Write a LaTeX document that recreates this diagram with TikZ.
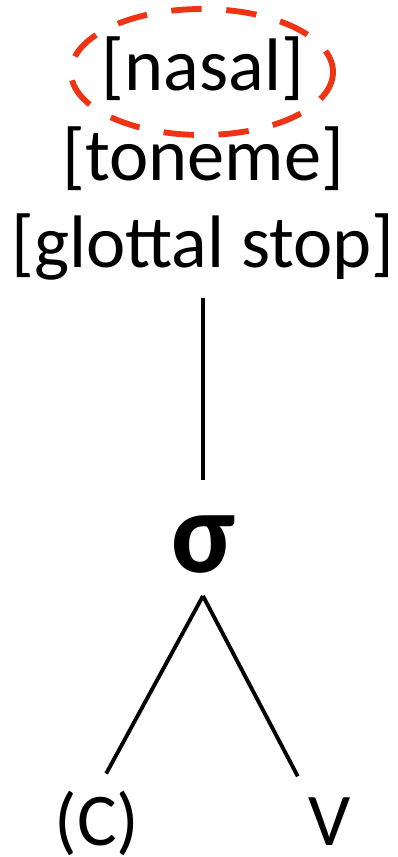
\documentclass[tikz,border=0pt]{standalone}
\usepackage{fontspec}
\setmainfont{Carlito}
\usetikzlibrary{positioning}
\definecolor{ringred}{RGB}{238,52,20}
\tikzset{
  feat/.style={anchor=base, inner sep=0pt},
  branch/.style={line width=3.3pt},
}
\begin{document}
\begin{tikzpicture}[x=0.03cm, y=-0.03cm, font=\fontsize{63.5}{76}\selectfont]
    \useasboundingbox (0,0) rectangle (398,857);
    % feature stack
    \node[feat] (nasal) at (203,90) {[nasal]};
    \node[feat] (toneme) at (203,180) {[toneme]};
    \node[feat] (glottal) at (203,267) {[glottal stop]};
    % dashed ring round [nasal]
    \draw[ringred, line width=5pt, dash pattern=on 26pt off 21pt]
      (202,72) ellipse [x radius=131, y radius=63];
    % syllable and its segments
    \node[feat, font=\fontsize{100}{110}\selectfont\bfseries] (syl) at (203,572) {σ};
    \node[feat] (cons) at (97,845) {(C)};
    \node[feat] (vow) at (330,845) {V};
    \coordinate[below=19.5pt of syl] (apex);
    \draw[branch, shorten <=15pt, shorten >=30pt] (glottal.south) -- (syl.north);
    \draw[branch, shorten >=16.4pt] (apex) -- (cons.north);
    \draw[branch, shorten >=20pt] (apex) -- (vow.north west);
  \end{tikzpicture}
\end{document}
